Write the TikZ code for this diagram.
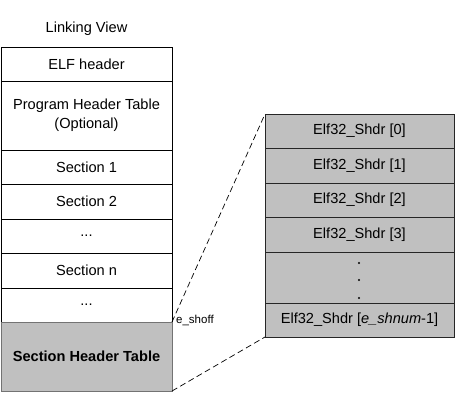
\documentclass[tikz,border=0pt]{standalone}
\usepackage{fontspec}
\setmainfont{Liberation Sans}
\begin{document}
\begin{tikzpicture}[x=1pt,y=-1pt,
  cell/.style={draw=black, line width=0.9pt, rectangle, inner sep=0pt, outer sep=0pt,
    align=center, font=\fontsize{14.6}{19}\selectfont},
  lcell/.style={cell, minimum width=171pt},
  rcell/.style={cell, fill=shdrgray, draw=black!85, minimum width=189pt},
  zoomline/.style={line width=0.7pt, dash pattern=on 6pt off 3.5pt}
]
\definecolor{shdrgray}{RGB}{192,192,192}
\useasboundingbox (0,0) rectangle (455,410);

% file layout in the linking view
\node[font=\fontsize{14.6}{19}\selectfont] (title) at (86.5,29) {Linking View};
\node[lcell, minimum height=34pt] (elf) at (86.5,64) {ELF header};
\node[lcell, minimum height=69pt] (pht) at (86.5,115.5) {Program Header Table\\(Optional)};
\node[lcell, minimum height=34pt] (s1) at (86.5,167) {Section 1};
\node[lcell, minimum height=35pt] (s2) at (86.5,201.5) {Section 2};
\node[lcell, minimum height=34pt] (d1) at (86.5,236) {...};
\node[lcell, minimum height=35pt] (sn) at (86.5,270.5) {Section n};
\node[lcell, minimum height=34pt] (d2) at (86.5,305) {...};
\node[lcell, minimum height=69pt, fill=shdrgray, draw=black!55, font=\fontsize{14.6}{19}\selectfont\bfseries]
  (sht) at (86.5,356.5) {Section Header Table};

% expanded section header table
\node[rcell, minimum height=34pt] (r0) at (359.5,131) {Elf32\_Shdr [0]};
\node[rcell, minimum height=35pt] (r1) at (359.5,165.5) {Elf32\_Shdr [1]};
\node[rcell, minimum height=34pt] (r2) at (359.5,200) {Elf32\_Shdr [2]};
\node[rcell, minimum height=35pt] (r3) at (359.5,234.5) {Elf32\_Shdr [3]};
\node[rcell, minimum height=51pt] (rd) at (359.5,277.5) {};
\node[rcell, minimum height=34pt] (rn) at (359.5,320) {Elf32\_Shdr [\textit{e\_shnum}-1]};
\foreach \yy in {263,280,298} \fill (359,\yy) circle (1.2pt);

% offset label and zoom lines
\node[anchor=west, inner sep=0pt, font=\fontsize{11.5}{13}\selectfont] (shoff) at (176,320) {e\_shoff};
\draw[zoomline] (sht.north east) -- (r0.north west);
\draw[zoomline] (sht.south east) -- (rn.south west);
\end{tikzpicture}
\end{document}
